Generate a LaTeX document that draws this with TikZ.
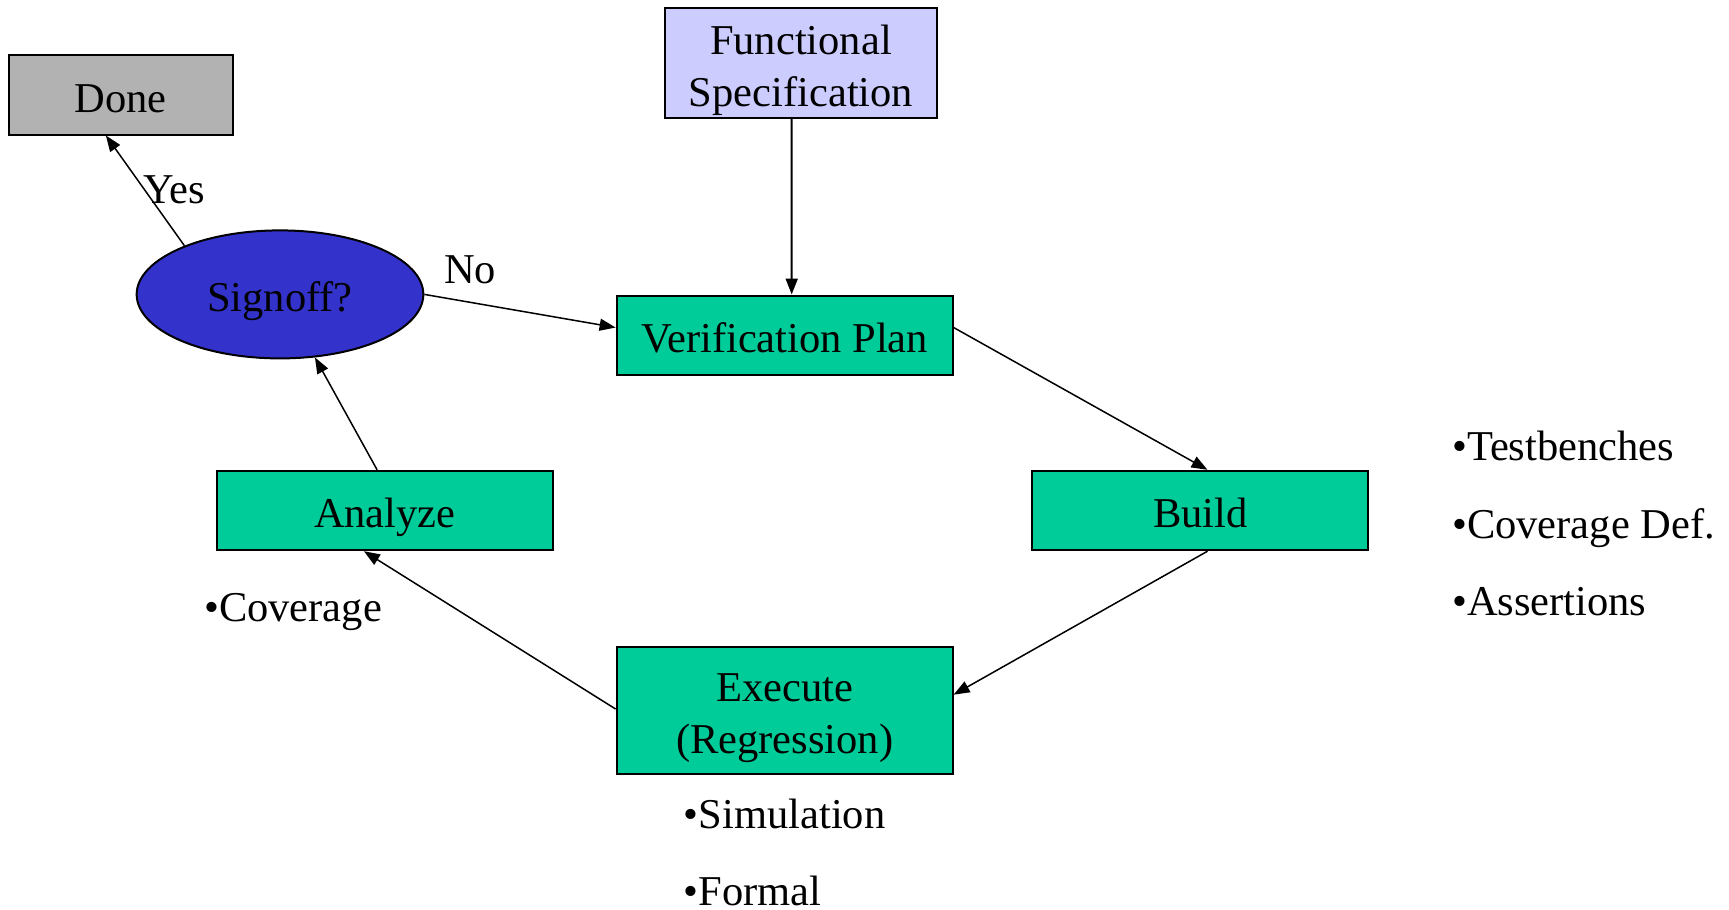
\documentclass[tikz,border=0pt]{standalone}
\usepackage{fontspec}
\setmainfont{Liberation Serif}
\usetikzlibrary{arrows.meta,calc,shapes.geometric}
\definecolor{vgreen}{HTML}{00CC99}
\definecolor{vlav}{HTML}{CCCCFF}
\definecolor{vgray}{HTML}{B2B2B2}
\definecolor{vblue}{HTML}{3333CC}
\tikzset{
  box/.style={draw, line width=2pt, inner sep=0pt, align=center, minimum width=336pt, minimum height=79.4pt, text height=34.4pt, text depth=0pt},
  greenbox/.style={box, fill=vgreen},
  twoline/.style={align=center, yshift=-7.3pt, inner sep=0pt},
  lbl/.style={inner sep=0pt, anchor=west, text height=29pt, text depth=0pt},
  conn/.style={line width=1.5pt, -{Triangle[length=16pt,width=12pt]}}
}
\begin{document}
\begin{tikzpicture}[x=1pt,y=-1pt,font=\fontsize{42.5}{51.5}\selectfont]
\useasboundingbox (0,0) rectangle (1729,910);
\node[box, fill=vgray, minimum width=224pt] (Done) at (120.7,94.8) {Done};
\node[box, fill=vlav, minimum width=272pt, minimum height=110pt, label={[twoline]center:Functional\\Specification}] (Func) at (801,62.9) {};
\node[ellipse, draw, line width=2pt, fill=vblue, minimum width=286.7pt, minimum height=128pt, inner sep=0pt, text height=34.4pt, text depth=0pt] (Signoff) at (280,294.4) {Signoff?};
\node[greenbox] (VP) at (784.6,335.2) {Verification Plan};
\node[greenbox] (Analyze) at (384.8,510.5) {Analyze};
\node[greenbox] (Build) at (1200.3,510.5) {Build};
\node[greenbox, minimum height=126.8pt, label={[twoline]center:Execute\\(Regression)}] (Exec) at (784.6,710.7) {};

\node[inner sep=0pt] (Yes) at (174,190) {Yes};
\node[inner sep=0pt] (No) at (470,270) {No};

\node[lbl] (cov) at (204,606.5) {\textbullet Coverage};
\node[lbl] (sim) at (683.7,813.8) {\textbullet Simulation};
\node[lbl] (frm) at (683.7,891) {\textbullet Formal};
\node[lbl] (tb) at (1452,445.5) {\textbullet Testbenches};
\node[lbl] (cd) at (1452,523.8) {\textbullet Coverage Def.};
\node[lbl] (as) at (1452,601) {\textbullet Assertions};

\draw[conn, line width=2pt] ($(Func.south)+(-9.3,0)$) -- ($(VP.north)+(7.1,0)$);
\draw[conn] (Signoff.east) -- ($(VP.west)+(0,-7.7)$);
\draw[conn] ($(VP.east)+(0,-7.7)$) -- ($(Build.north)+(7.2,0)$);
\draw[conn] ($(Build.south)+(7.2,0)$) -- ($(Exec.east)+(0,-16)$);
\draw[conn] ($(Exec.west)+(0,-1.7)$) -- ($(Analyze.south)+(-20.9,0)$);
\draw[conn] ($(Analyze.north)+(-7.7,0)$) -- (Signoff.-61);
\draw[conn] (Signoff.153) -- ($(Done.south)+(-14.8,0)$);
\end{tikzpicture}
\end{document}
